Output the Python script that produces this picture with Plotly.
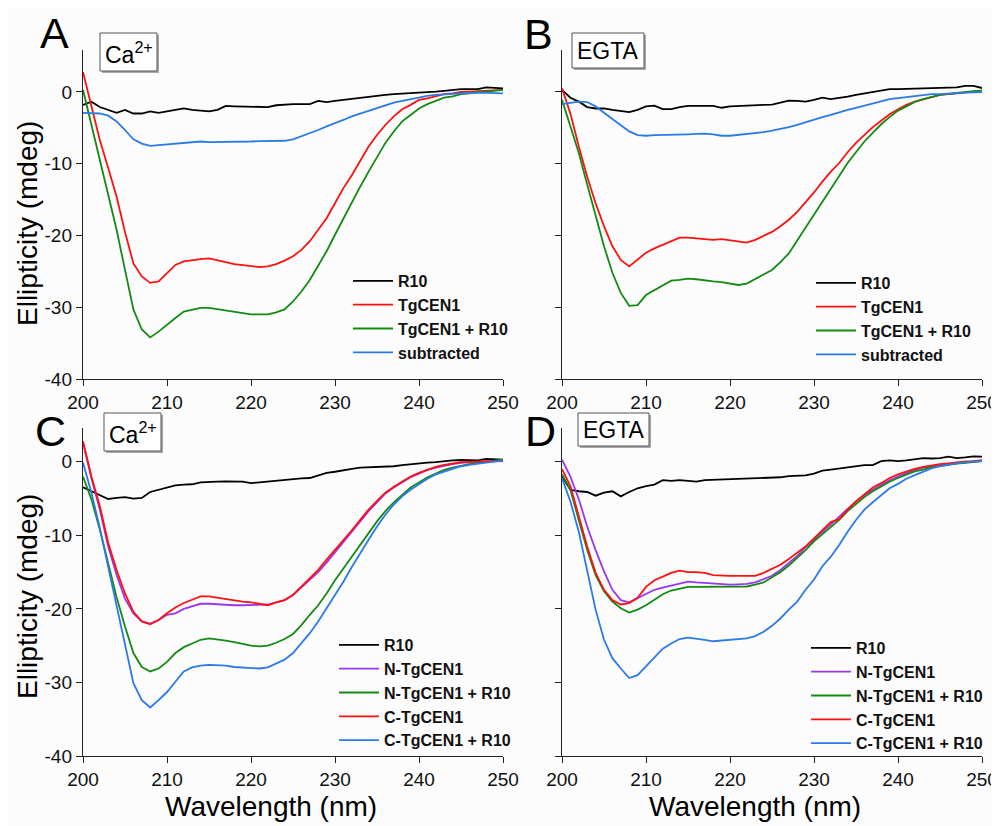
import plotly.graph_objects as go

# The page body has an 8 px margin, so the figure is laid out in a 991x818 box
OFF = 8
W, H = 999 - OFF, 826 - OFF
wavelength = list(range(200, 251))

# ---- Panel A (Ca2+) ----
A_R10 = [-1.8, -1.35, -2.1, -2.5, -2.9, -2.5, -3.0, -3.0, -2.7, -2.9,
         -2.7, -2.5, -2.3, -2.5, -2.6, -2.7, -2.5, -1.95, -2.0, -2.0,
         -2.0, -2.0, -2.1, -1.85, -1.75, -1.7, -1.7, -1.7, -1.25, -1.4,
         -1.25, -1.1, -0.9, -0.85, -0.65, -0.5, -0.4, -0.3, -0.25, -0.2,
         -0.15, -0.05, 0.05, 0.15, 0.3, 0.4, 0.4, 0.4, 0.65, 0.55, 0.5]
A_TgCEN1 = [2.8, -2.0, -6.7, -10.6, -14.6, -19.5, -23.9, -25.7, -26.6, -26.4,
            -25.2, -24.1, -23.6, -23.4, -23.3, -23.2, -23.4, -23.7, -24.0, -24.1,
            -24.2, -24.4, -24.3, -24.0, -23.5, -22.9, -22.0, -20.8, -19.2, -17.6,
            -15.5, -13.4, -11.6, -9.5, -7.6, -6.0, -4.6, -3.4, -2.4, -1.8,
            -1.1, -0.9, -0.6, -0.3, -0.2, 0.0, 0.05, 0.1, 0.2, 0.25, 0.3]
A_TgCEN1_R10 = [0.3, -4.6, -9.5, -14.3, -19.2, -24.8, -30.3, -33.1, -34.2, -33.4,
                -32.4, -31.5, -30.6, -30.3, -30.1, -30.1, -30.3, -30.5, -30.6, -30.8,
                -31.0, -31.0, -31.0, -30.7, -30.3, -29.2, -27.8, -26.2, -24.3, -22.2,
                -19.9, -17.6, -15.3, -13.2, -11.1, -9.0, -7.1, -5.5, -4.1, -3.2,
                -2.3, -1.7, -1.2, -0.8, -0.6, -0.3, -0.2, 0.0, 0.05, 0.2, 0.3]
A_subtracted = [-2.9, -2.9, -3.0, -3.3, -4.1, -5.3, -6.6, -7.2, -7.5, -7.4,
                -7.3, -7.2, -7.1, -7.0, -6.9, -7.0, -7.0, -6.95, -6.9, -6.9,
                -6.9, -6.85, -6.8, -6.8, -6.8, -6.6, -6.2, -5.8, -5.3, -4.8,
                -4.4, -3.9, -3.4, -3.0, -2.6, -2.2, -1.9, -1.5, -1.25, -1.0,
                -0.7, -0.55, -0.4, -0.3, -0.2, -0.2, -0.15, -0.1, -0.1, -0.15, -0.2]

# ---- Panel B (EGTA) ----
B_R10 = [0.3, -0.8, -1.35, -2.1, -2.3, -2.3, -2.5, -2.7, -2.8, -2.5,
         -2.0, -1.9, -2.4, -2.4, -2.1, -1.95, -1.9, -1.95, -1.95, -2.2,
         -2.0, -1.95, -1.95, -1.85, -1.8, -1.75, -1.5, -1.2, -1.25, -1.35,
         -1.1, -0.8, -1.0, -0.85, -0.65, -0.4, -0.2, 0.05, 0.3, 0.4,
         0.4, 0.45, 0.5, 0.5, 0.5, 0.65, 0.65, 0.65, 0.85, 0.85, 0.55]
B_TgCEN1 = [0.5, -3.0, -7.6, -11.8, -15.5, -18.7, -21.5, -23.4, -24.3, -23.4,
            -22.4, -21.8, -21.3, -20.7, -20.3, -20.3, -20.4, -20.5, -20.6, -20.5,
            -20.7, -20.9, -21.0, -20.6, -20.0, -19.5, -18.7, -17.8, -16.7, -15.4,
            -14.0, -12.5, -11.1, -9.9, -8.4, -7.1, -6.0, -4.9, -4.0, -3.1,
            -2.4, -1.8, -1.35, -1.0, -0.65, -0.4, -0.3, -0.2, -0.05, 0.0, 0.15]
B_TgCEN1_R10 = [-1.1, -4.8, -8.5, -12.9, -17.4, -21.5, -25.2, -28.0, -29.8, -29.7,
                -28.3, -27.6, -26.9, -26.3, -26.2, -26.0, -26.1, -26.3, -26.4, -26.5,
                -26.7, -26.9, -26.7, -26.1, -25.5, -24.8, -23.7, -22.5, -20.7, -18.9,
                -17.0, -15.2, -13.4, -11.7, -9.9, -8.4, -6.9, -5.7, -4.5, -3.5,
                -2.6, -2.0, -1.4, -1.0, -0.65, -0.4, -0.25, -0.1, 0.0, 0.1, 0.2]
B_subtracted = [-1.7, -1.5, -1.35, -1.4, -2.0, -2.9, -3.8, -4.7, -5.5, -6.0,
                -6.1, -6.0, -6.0, -6.0, -5.95, -5.9, -5.85, -5.8, -5.9, -6.1,
                -6.1, -6.0, -5.9, -5.75, -5.6, -5.4, -5.2, -4.9, -4.6, -4.2,
                -3.8, -3.5, -3.2, -2.8, -2.5, -2.2, -1.9, -1.6, -1.25, -1.0,
                -0.85, -0.7, -0.55, -0.4, -0.3, -0.3, -0.2, -0.15, -0.1, -0.05, 0.0]

# ---- Panel C (Ca2+) ----
C_R10 = [-3.45, -4.0, -4.5, -5.05, -4.9, -4.8, -5.0, -4.9, -4.1, -3.8,
         -3.45, -3.2, -3.1, -3.05, -2.8, -2.8, -2.7, -2.65, -2.7, -2.7,
         -2.9, -2.8, -2.6, -2.5, -2.4, -2.3, -2.25, -2.2, -1.9, -1.5,
         -1.35, -1.1, -0.95, -0.8, -0.75, -0.7, -0.65, -0.6, -0.45, -0.3,
         -0.2, -0.1, -0.05, 0.1, 0.2, 0.25, 0.2, 0.2, 0.4, 0.3, 0.3]
C_N_TgCEN1 = [2.6, -2.2, -6.5, -11.5, -15.4, -18.6, -20.6, -21.7, -22.0, -21.5,
              -20.8, -20.6, -20.0, -19.7, -19.3, -19.3, -19.4, -19.5, -19.5, -19.5,
              -19.5, -19.5, -19.4, -19.1, -18.8, -18.1, -17.1, -16.0, -15.0, -13.7,
              -12.3, -11.0, -9.6, -8.1, -6.7, -5.5, -4.3, -3.5, -2.8, -2.1,
              -1.6, -1.1, -0.8, -0.5, -0.3, -0.15, -0.05, 0.05, 0.05, 0.05, 0.1]
C_N_TgCEN1_R10 = [-2.0, -5.1, -9.2, -13.8, -18.4, -22.4, -26.0, -27.9, -28.5, -28.1,
                  -27.2, -26.0, -25.2, -24.7, -24.2, -24.0, -24.1, -24.3, -24.5, -24.8,
                  -25.0, -25.1, -25.0, -24.6, -24.1, -23.4, -22.2, -20.8, -19.5, -17.9,
                  -16.1, -14.5, -12.9, -11.3, -9.7, -8.1, -6.7, -5.5, -4.5, -3.5,
                  -2.8, -2.1, -1.6, -1.1, -0.8, -0.5, -0.3, -0.15, 0.0, 0.15, 0.3]
C_C_TgCEN1 = [2.8, -2.0, -6.0, -11.0, -14.7, -17.9, -20.4, -21.7, -22.1, -21.5,
              -20.6, -19.8, -19.2, -18.8, -18.3, -18.3, -18.5, -18.6, -18.8, -19.0,
              -19.1, -19.3, -19.5, -19.1, -18.8, -18.1, -17.0, -15.8, -14.7, -13.3,
              -12.0, -10.6, -9.3, -7.9, -6.5, -5.3, -4.2, -3.4, -2.7, -2.0,
              -1.5, -1.05, -0.7, -0.4, -0.2, -0.05, 0.0, 0.1, 0.1, 0.1, 0.1]
C_C_TgCEN1_R10 = [-0.1, -4.2, -9.0, -14.2, -19.7, -24.7, -30.1, -32.4, -33.4, -32.4,
                  -31.3, -29.9, -28.5, -27.95, -27.7, -27.6, -27.6, -27.7, -27.9, -27.95,
                  -28.0, -28.1, -27.95, -27.4, -26.9, -26.0, -24.7, -23.3, -21.7, -19.9,
                  -18.1, -16.3, -14.3, -12.4, -10.6, -8.8, -7.2, -5.8, -4.7, -3.8,
                  -3.0, -2.3, -1.7, -1.3, -0.9, -0.6, -0.4, -0.25, -0.05, 0.1, 0.2]

# ---- Panel D (EGTA) ----
D_R10 = [-2.0, -3.8, -4.0, -4.1, -4.6, -4.2, -4.0, -4.7, -4.1, -3.6,
         -3.3, -3.1, -2.5, -2.6, -2.5, -2.6, -2.7, -2.5, -2.45, -2.4,
         -2.4, -2.4, -2.3, -2.25, -2.2, -2.15, -2.1, -1.95, -1.9, -1.85,
         -1.6, -1.2, -1.05, -0.9, -0.7, -0.5, -0.45, -0.45, 0.1, 0.2,
         0.1, 0.2, 0.35, 0.5, 0.45, 0.5, 0.7, 0.5, 0.6, 0.75, 0.7]
D_N_TgCEN1 = [0.3, -2.0, -5.1, -8.8, -12.0, -14.9, -17.4, -18.8, -19.1, -18.5,
              -17.9, -17.4, -17.1, -16.8, -16.5, -16.3, -16.4, -16.5, -16.6, -16.7,
              -16.7, -16.65, -16.6, -16.4, -16.0, -15.5, -14.7, -13.8, -12.8, -11.6,
              -10.5, -9.5, -8.5, -7.4, -6.4, -5.4, -4.5, -3.8, -3.1, -2.5,
              -2.0, -1.5, -1.1, -0.8, -0.6, -0.4, -0.3, -0.2, -0.05, 0.05, 0.2]
D_N_TgCEN1_R10 = [-1.7, -3.8, -7.9, -12.0, -15.4, -17.6, -19.0, -19.9, -20.5, -20.1,
                  -19.5, -18.7, -18.0, -17.5, -17.2, -17.0, -17.0, -17.0, -17.0, -17.0,
                  -17.0, -17.0, -16.95, -16.7, -16.4, -15.7, -15.0, -14.1, -13.1, -12.0,
                  -10.8, -9.8, -8.9, -7.9, -6.7, -5.7, -4.8, -4.0, -3.3, -2.7,
                  -2.2, -1.7, -1.3, -1.05, -0.7, -0.55, -0.35, -0.25, -0.15, 0.0, 0.1]
D_C_TgCEN1 = [-1.0, -3.3, -7.4, -11.5, -15.1, -17.4, -18.8, -19.4, -19.2, -18.5,
              -17.0, -16.1, -15.6, -15.1, -14.8, -15.0, -15.0, -15.1, -15.4, -15.5,
              -15.5, -15.5, -15.5, -15.5, -15.1, -14.5, -14.0, -13.2, -12.3, -11.5,
              -10.4, -9.25, -8.2, -7.8, -6.5, -5.4, -4.5, -3.5, -2.9, -2.2,
              -1.7, -1.3, -0.95, -0.7, -0.45, -0.3, -0.2, -0.05, 0.05, 0.1, 0.2]
D_C_TgCEN1_R10 = [-2.2, -5.4, -9.5, -14.7, -20.1, -24.2, -26.7, -28.1, -29.4, -29.0,
                  -27.8, -26.5, -25.4, -24.7, -24.1, -23.9, -24.0, -24.2, -24.4, -24.3,
                  -24.2, -24.1, -24.0, -23.7, -23.1, -22.3, -21.3, -20.1, -19.0, -17.4,
                  -16.0, -14.2, -12.9, -11.3, -9.5, -7.9, -6.5, -5.5, -4.5, -3.6,
                  -3.0, -2.3, -1.8, -1.3, -0.9, -0.6, -0.35, -0.2, -0.05, 0.05, 0.1]

x_ticks = [200, 210, 220, 230, 240, 250]
y_ticks = [0, -10, -20, -30, -40]
y_ticktext = ["0", "-10", "-20", "-30", "-40"]
panel_letters = ["A", "B", "C", "D"]
condition_labels = ["Ca<sup>2+</sup>", "EGTA", "Ca<sup>2+</sup>", "EGTA"]

BLACK, RED, GREEN, BLUE, PURPLE = "#000000", "#ff1010", "#138a13", "#2a7ae8", "#9a36f0"
FONT = "Arial, Liberation Sans, sans-serif"

def px_x(v):
    # reference-screen pixel -> paper fraction
    return (v - OFF) / W

def px_y(v):
    return 1 - (v - OFF) / H

fig = go.Figure()

panels = [
    ("x", "y", "legend", [("R10", A_R10, BLACK), ("TgCEN1", A_TgCEN1, RED),
                          ("TgCEN1 + R10", A_TgCEN1_R10, GREEN), ("subtracted", A_subtracted, BLUE)]),
    ("x2", "y2", "legend2", [("R10", B_R10, BLACK), ("TgCEN1", B_TgCEN1, RED),
                             ("TgCEN1 + R10", B_TgCEN1_R10, GREEN), ("subtracted", B_subtracted, BLUE)]),
    ("x3", "y3", "legend3", [("R10", C_R10, BLACK), ("N-TgCEN1", C_N_TgCEN1, PURPLE),
                             ("N-TgCEN1 + R10", C_N_TgCEN1_R10, GREEN), ("C-TgCEN1", C_C_TgCEN1, RED),
                             ("C-TgCEN1 + R10", C_C_TgCEN1_R10, BLUE)]),
    ("x4", "y4", "legend4", [("R10", D_R10, BLACK), ("N-TgCEN1", D_N_TgCEN1, PURPLE),
                             ("N-TgCEN1 + R10", D_N_TgCEN1_R10, GREEN), ("C-TgCEN1", D_C_TgCEN1, RED),
                             ("C-TgCEN1 + R10", D_C_TgCEN1_R10, BLUE)]),
]

for xa, ya, lg, series in panels:
    for name, vals, col in series:
        fig.add_trace(go.Scatter(x=wavelength, y=vals, mode="lines", name=name,
                                 line=dict(color=col, width=1.8), xaxis=xa, yaxis=ya,
                                 legend=lg, showlegend=True))

# geometry (reference pixels)
xdom = {"L": (83, 503), "R": (562, 982)}
ydom = {"T": (50, 379), "B": (428, 756)}
yrng = {"T": [-40, 5.85], "B": [-40, 4.6]}

def xaxis_cfg(side, anchor):
    return dict(domain=[px_x(xdom[side][0]), px_x(xdom[side][1])], range=[200, 250],
                anchor=anchor, tickvals=x_ticks, ticks="outside", ticklen=6, tickwidth=1.3,
                tickcolor="#222", showline=True, linecolor="#222", linewidth=1.4,
                showgrid=False, zeroline=False, automargin=False,
                tickfont=dict(size=19, color="#111", family=FONT))

def yaxis_cfg(row, anchor, labels):
    return dict(domain=[px_y(ydom[row][1]), px_y(ydom[row][0])], range=yrng[row],
                anchor=anchor, tickvals=y_ticks, ticktext=y_ticktext, ticks="outside",
                ticklen=6, tickwidth=1.3,
                tickcolor="#222", showline=True, linecolor="#222", linewidth=1.4,
                showgrid=False, zeroline=False, showticklabels=labels, automargin=False,
                tickfont=dict(size=19, color="#111", family=FONT))

leg_common = dict(xanchor="left", yanchor="top", bgcolor="rgba(0,0,0,0)",
                  font=dict(size=16, family=FONT, color="#111", weight="bold"),
                  itemwidth=40, tracegroupgap=0, borderwidth=0)

fig.update_layout(
    width=W, height=H, margin=dict(l=0, r=0, t=0, b=0),
    paper_bgcolor="#fcfcfc", plot_bgcolor="#fcfcfc",
    xaxis=xaxis_cfg("L", "y"), yaxis=yaxis_cfg("T", "x", True),
    xaxis2=xaxis_cfg("R", "y2"), yaxis2=yaxis_cfg("T", "x2", False),
    xaxis3=xaxis_cfg("L", "y3"), yaxis3=yaxis_cfg("B", "x3", True),
    xaxis4=xaxis_cfg("R", "y4"), yaxis4=yaxis_cfg("B", "x4", False),
    legend=dict(x=px_x(348), y=px_y(264), **leg_common),
    legend2=dict(x=px_x(811), y=px_y(266), **leg_common),
    legend3=dict(x=px_x(334), y=px_y(628), **leg_common),
    legend4=dict(x=px_x(806), y=px_y(631), **leg_common),
)

annotations = []
shapes = []
# panel letters
for letter, (cx, cy) in zip(panel_letters, [(54, 33), (538, 34), (50, 431), (540, 431)]):
    annotations.append(dict(text=letter, x=px_x(cx), y=px_y(cy), xref="paper", yref="paper",
                            xanchor="center", yanchor="middle", showarrow=False,
                            font=dict(size=43, family=FONT, color="#000")))
# condition boxes
boxes = [(100, 33, 157, 71), (572, 33, 644, 68), (104, 413, 161, 451), (578, 413, 649, 446)]
for lab, (x0, y0, x1, y1) in zip(condition_labels, boxes):
    shapes.append(dict(type="rect", xref="paper", yref="paper", x0=px_x(x0 + 2), x1=px_x(x1 + 2),
                       y0=px_y(y1 + 2), y1=px_y(y0 + 2), fillcolor="#a8a8a8", line=dict(width=0)))
    shapes.append(dict(type="rect", xref="paper", yref="paper", x0=px_x(x0), x1=px_x(x1),
                       y0=px_y(y1), y1=px_y(y0), fillcolor="#ffffff", line=dict(color="#555", width=1)))
    annotations.append(dict(text=lab, x=px_x((x0 + x1) / 2), y=px_y((y0 + y1) / 2 + 1),
                            xref="paper", yref="paper", xanchor="center", yanchor="middle",
                            showarrow=False, font=dict(size=23, family=FONT, color="#000")))
# axis titles
for cy in (224, 597):
    annotations.append(dict(text="Ellipticity (mdeg)", x=px_x(27), y=px_y(cy), xref="paper", yref="paper",
                            xanchor="center", yanchor="middle", textangle=-90, showarrow=False,
                            font=dict(size=28, family=FONT, color="#000")))
for cx in (271, 755):
    annotations.append(dict(text="Wavelength (nm)", x=px_x(cx), y=px_y(806), xref="paper", yref="paper",
                            xanchor="center", yanchor="middle", showarrow=False,
                            font=dict(size=28, family=FONT, color="#000")))

fig.update_layout(annotations=annotations, shapes=shapes)
fig.write_html("out.html")
